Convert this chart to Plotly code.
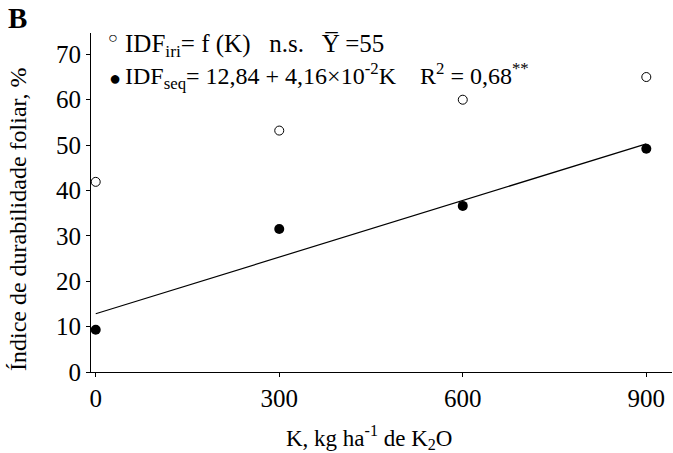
import plotly.graph_objects as go

# Data
k_doses = [0, 300, 600, 900]
idf_iri = [41.9, 53.2, 60.0, 65.0]
idf_seq = [9.3, 31.5, 36.6, 49.2]
fit_x = [0, 900]
fit_y = [12.84, 50.28]
x_ticks = [0, 300, 600, 900]
y_ticks = [0, 10, 20, 30, 40, 50, 60, 70]

FONT = "Liberation Serif"
W, H = 673, 453
L, R, T, B = 91, 1, 33, 81

def px(x):
    return (x - L) / (W - L - R)

def py(y):
    return (H - B - y) / (H - T - B)

fig = go.Figure()
fig.add_trace(go.Scatter(x=fit_x, y=fit_y, mode="lines",
                         line=dict(color="black", width=1.2), showlegend=False))
fig.add_trace(go.Scatter(x=k_doses, y=idf_iri, mode="markers",
                         marker=dict(symbol="circle-open", size=9, color="black",
                                     line=dict(width=1)), showlegend=False))
fig.add_trace(go.Scatter(x=k_doses, y=idf_seq, mode="markers",
                         marker=dict(symbol="circle", size=10, color="black"),
                         showlegend=False))

annos = [
    dict(text="<b>B</b>", x=px(6), y=py(18), xanchor="left", yanchor="middle", size=29, angle=0),
    dict(text="○", x=px(106), y=py(38), xanchor="left", yanchor="middle", size=16, angle=0),
    dict(text="IDF<sub>iri</sub>= f (K)   n.s.   Y̅ =55", x=px(123), y=py(45),
         xanchor="left", yanchor="middle", size=25, angle=0),
    dict(text="●", x=px(107), y=py(78), xanchor="left", yanchor="middle", size=20, angle=0),
    dict(text="IDF<sub>seq</sub>= 12,84 + 4,16×10<sup>-2</sup>K    R<sup>2</sup> = 0,68<sup>**</sup>",
         x=px(123), y=py(76), xanchor="left", yanchor="middle", size=24, angle=0),
    dict(text="K, kg ha<sup>-1</sup> de K<sub>2</sub>O", x=px(369), y=py(437),
         xanchor="center", yanchor="middle", size=23, angle=0),
    dict(text="Índice de durabilidade foliar, %", x=px(18), y=py(219),
         xanchor="center", yanchor="middle", size=24, angle=-90),
]
for a in annos:
    fig.add_annotation(xref="paper", yref="paper", x=a["x"], y=a["y"], text=a["text"],
                       showarrow=False, xanchor=a["xanchor"], yanchor=a["yanchor"],
                       textangle=a["angle"],
                       font=dict(family=FONT, size=a["size"], color="black"))

fig.update_layout(
    width=W, height=H, margin=dict(l=L, r=R, t=T, b=B, autoexpand=False),
    plot_bgcolor="white", paper_bgcolor="white",
    font=dict(family=FONT, size=25, color="black"),
    xaxis=dict(range=[-7.7, 942], tickvals=x_ticks, showgrid=False, zeroline=False,
               automargin=False,
               showline=True, linecolor="black", linewidth=1, ticks="outside",
               ticklen=4, tickcolor="black", tickfont=dict(family=FONT, size=25)),
    yaxis=dict(range=[0, 74.7], tickvals=y_ticks, showgrid=False, zeroline=False,
               automargin=False,
               showline=True, linecolor="black", linewidth=1, ticks="outside",
               ticklen=4, tickcolor="black", tickfont=dict(family=FONT, size=25)),
)

fig.write_html("out.html", config={"displayModeBar": False},
               post_script="document.body.style.margin='0px';")
